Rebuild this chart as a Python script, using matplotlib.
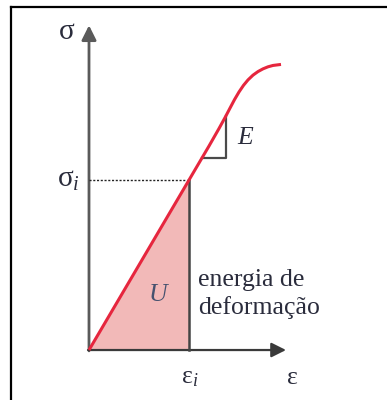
import matplotlib
matplotlib.use('Agg')
from matplotlib import pyplot as plt
from matplotlib.lines import Line2D

plt.rcParams['font.family'] = ['Liberation Serif', 'DejaVu Serif']
plt.rcParams['mathtext.fontset'] = 'custom'
plt.rcParams['mathtext.rm'] = 'Liberation Serif'
plt.rcParams['mathtext.it'] = 'Liberation Serif:italic'

# stress-strain curve, strain scaled so eps_i = 1 and stress so sigma_i = 1
strain = [0.0, 1.0, 1.2, 1.3, 1.36, 1.41, 1.455, 1.50, 1.545, 1.59, 1.64, 1.69, 1.74, 1.79, 1.84, 1.92]
stress = [0.0, 1.0, 1.2, 1.303, 1.367, 1.423, 1.473, 1.518, 1.557, 1.589, 1.617, 1.638, 1.654, 1.666, 1.674, 1.680]
eps_i = 1.0
sig_i = 1.0
# slope triangle for E
tri_x = [1.13, 1.37, 1.37]
tri_y = [1.129, 1.129, 1.377]

red = '#e6263e'
axis_col = '#5a5a5a'
txt = '#2a2c3c'

fig = plt.figure(figsize=(3.87, 4.0), dpi=100)
ax = fig.add_axes([0, 0, 1, 1])
ax.set_xlim(-0.89, 2.98)
ax.set_ylim(-0.294, 2.059)
ax.axis('off')

# energy area under the linear part
ax.fill([0, eps_i, eps_i], [0, 0, sig_i], color='#f2b9b8', lw=0, zorder=1)

# axes with arrow heads
ax.annotate('', xy=(0, 1.91), xytext=(0, -0.005),
            arrowprops=dict(arrowstyle='-|>', color=axis_col, lw=2.0,
                            mutation_scale=22, shrinkA=0, shrinkB=0), zorder=2)
ax.annotate('', xy=(1.97, 0), xytext=(-0.01, 0),
            arrowprops=dict(arrowstyle='-|>', color='#3a3a3a', lw=1.6,
                            mutation_scale=22, shrinkA=0, shrinkB=0), zorder=2)

ax.plot([eps_i, eps_i], [0, sig_i], color='#444444', lw=1.8, zorder=2)
ax.plot([0, eps_i], [sig_i, sig_i], color='#222222', lw=1.0, ls=(0, (1.5, 1.2)), zorder=2)
ax.plot(tri_x, tri_y, color='#4a4a4a', lw=1.6, zorder=2)

ax.plot(strain, stress, color=red, lw=2.2, solid_capstyle='butt',
        solid_joinstyle='round', zorder=3)

fs = 18.5
ax.text(-0.22, 1.87, 'σ', fontsize=21, color=txt, ha='center', va='center')
ax.text(-0.205, 1.0, 'σ$_i$', fontsize=21, color=txt, ha='center', va='center')
ax.text(eps_i + 0.005, -0.165, 'ε$_i$', fontsize=fs, color=txt, ha='center', va='center')
ax.text(2.03, -0.165, 'ε', fontsize=fs, color=txt, ha='center', va='center')
ax.text(1.56, 1.247, 'E', fontsize=fs, style='italic', color=txt, ha='center', va='center')
ax.text(0.69, 0.324, 'U', fontsize=fs, style='italic', color='#46526f', ha='center', va='center')
ax.text(1.09, 0.33, 'energia de\ndeformação', fontsize=fs, color=txt,
        ha='left', va='center', linespacing=1.3)

# frame around the figure (left and top edges)
fig.add_artist(Line2D([11 / 387, 11 / 387], [0, 1 - 7 / 400], color='black', lw=1.6))
fig.add_artist(Line2D([11 / 387, 1], [1 - 7 / 400, 1 - 7 / 400], color='black', lw=1.6))

fig.savefig('out.png', dpi=100)
